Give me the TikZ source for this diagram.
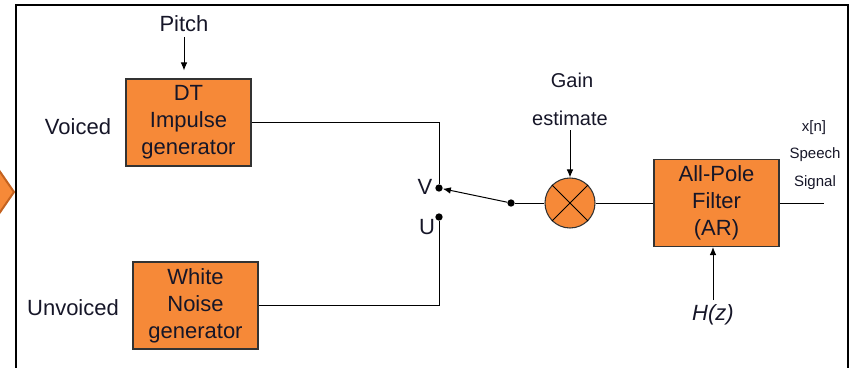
\documentclass[tikz,border=0pt]{standalone}
\usepackage{fontspec}
\setmainfont{Liberation Sans}
\usepackage{xcolor}
\usepackage{tikz}
\usetikzlibrary{arrows.meta, positioning}

\definecolor{boxorange}{RGB}{246,137,56}
\definecolor{chevron}{RGB}{196,98,31}
\definecolor{ink}{RGB}{22,22,40}

\begin{document}
\begin{tikzpicture}[
			x=0.75pt, y=-0.75pt,
			node distance=6pt,
			every node/.style={font=\fontsize{16.5}{20.25}\selectfont, text=ink},
			box/.style={
				rectangle, draw=black!80, fill=boxorange, line width=0.8pt,
				align=center, minimum width=93.75pt, minimum height=65.25pt, inner sep=0pt
			},
			mixer/.style={
				circle, draw=black!80, fill=boxorange, line width=0.8pt,
				minimum size=37.5pt, inner sep=0pt
			},
			contact/.style={circle, fill=black, inner sep=0pt, minimum size=5.5pt},
			smalltag/.style={font=\fontsize{11.25}{13}\selectfont},
			gaintag/.style={font=\fontsize{15}{18}\selectfont},
			wire/.style={line width=0.75pt},
			arrow/.style={
				-{Latex[length=6pt,width=5pt]},
				line width=0.75pt
			}
			]
			\useasboundingbox (0,0) rectangle (854,368);
			
			% frame and edge of the previous arrow
			\filldraw[fill=boxorange, draw=chevron, line width=1.5pt] (-6,163) -- (14,192) -- (-6,221) -- cycle;
			\draw[line width=1.5pt] (16,370) |- (848,5) -- (848,370);
			
			\node[box] (impulse) at (188.5,122.5) {DT\\Impulse\\generator};
			\node[box] (noise) at (195.5,305.5) {White\\Noise\\generator};
			\node[box] (filter) at (716.5,203) {All-Pole\\Filter\\(AR)};
			\node[mixer] (mixer) at (570,203) {};
			
			\node (pitch) at (184,24) {Pitch};
			\node (voiced) at (78,127) {Voiced};
			\node (unvoiced) at (73,308) {Unvoiced};
			\node[gaintag] (gain) at (572,80) {Gain};
			\node[gaintag] (estimate) at (570,118) {estimate};
			\node[smalltag] (xn) at (814,128) {x[n]};
			\node[smalltag] (speech) at (815,155) {Speech};
			\node[smalltag] (signal) at (815,183) {Signal};
			\node (hz) at (713,315) {\textit{H(z)}};
			
			% switch
			\node[contact] (vdot) at (439,188) {};
			\node[contact] (udot) at (439,217) {};
			\node[contact] (pivot) at (511,203) {};
			\node (vtag) at (425,187) {V};
			\node (utag) at (427,227) {U};
			\coordinate (out) at (824,203);
			
			\draw[arrow, shorten >=6pt] (pitch.south) -- (pitch.south |- impulse.north);
			\draw[wire] (impulse.east) -| (vdot);
			\draw[wire] (noise.east) -| (udot);
			\draw[arrow] (pivot) -- (vdot);
			\draw[wire] (pivot) -- (mixer);
			\draw[wire] (mixer.north west) -- (mixer.south east);
			\draw[wire] (mixer.south west) -- (mixer.north east);
			\draw[arrow] (estimate.south) -- (mixer.north);
			\draw[wire] (mixer) -- (filter);
			\draw[wire] (filter.east) -- (out);
			\draw[arrow] (hz.north) -- (hz.north |- filter.south);
		\end{tikzpicture}
\end{document}
